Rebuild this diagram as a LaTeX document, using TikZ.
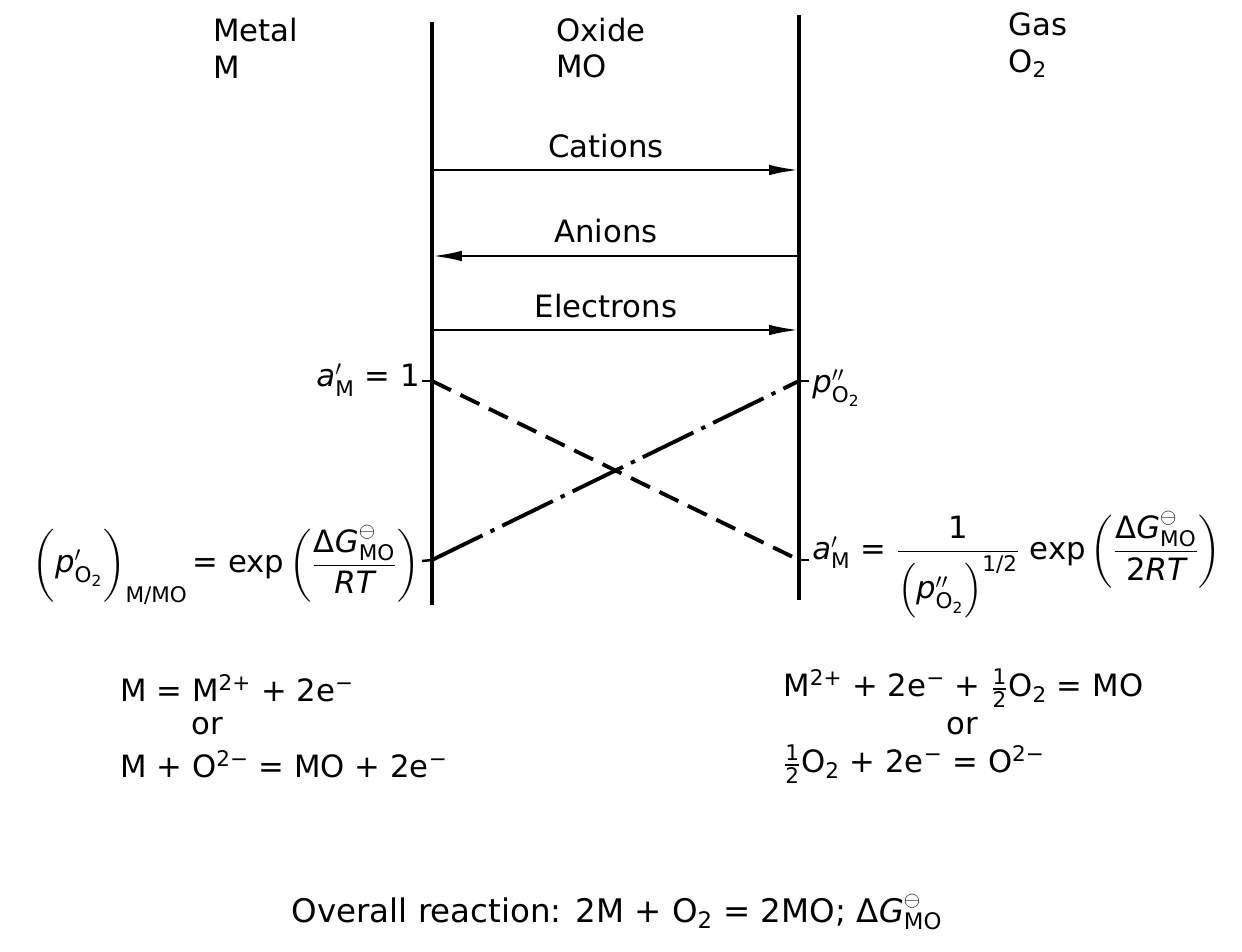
\documentclass[tikz,border=0pt]{standalone}
\usepackage{amsmath}
\usepackage{fontspec}
\setmainfont{DejaVu Sans}
\usetikzlibrary{arrows.meta}
\newcommand\tx[1]{\text{#1}}
\newcommand\vi[1]{\text{\itshape #1}}
\newcommand\Otwo{\tx{O}_{\tx{2}}}
\newcommand\stdst{^{\ominus}}
\tikzset{
  lbl/.style={inner sep=0pt, font=\fontsize{17.5}{21}\selectfont},
  big/.style={inner sep=0pt, font=\fontsize{18.5}{22}\selectfont},
  wall/.style={line width=2.3pt},
  tick/.style={line width=1.4pt},
  flux/.style={line width=1.6pt, -{Latex[length=17pt,width=6pt]}},
  actM/.style={line width=2.2pt, dash pattern=on 12pt off 6pt},
  pO/.style={line width=2.2pt, dash pattern=on 32pt off 5pt on 2.5pt off 5pt},
}
\begin{document}
\begin{tikzpicture}[x=0.02cm, y=-0.02cm]
\useasboundingbox[fill=white] (0,0) rectangle (1242,952);
% walls
\coordinate (lt) at (432,22);
\coordinate (lb) at (432,605);
\coordinate (rt) at (799,15);
\coordinate (rb) at (799,600);
\draw[wall] (lt) -- (lb);
\draw[wall] (rt) -- (rb);
% phase labels
\node[lbl, anchor=west, align=left] (metal) at (213,48) {Metal\\M};
\node[lbl, anchor=west, align=left] (oxide) at (556,48) {Oxide\\MO};
\node[lbl, anchor=west, align=left] (gas) at (1008,45) {Gas\\$\Otwo$};
% fluxes
\coordinate (c1) at (432,170); \coordinate (c2) at (799,170);
\coordinate (a1) at (432,256); \coordinate (a2) at (799,256);
\coordinate (e1) at (432,330); \coordinate (e2) at (799,330);
\draw[flux] (c1) -- (c2);
\draw[flux] (a2) -- (a1);
\draw[flux] (e1) -- (e2);
\node[lbl] (cat) at (606,146) {Cations};
\node[lbl] (ani) at (606,231) {Anions};
\node[lbl] (ele) at (606,306) {Electrons};
% activity / pressure profiles
\coordinate (m1) at (432,381); \coordinate (m2) at (799,560);
\coordinate (o1) at (432,560); \coordinate (o2) at (799,381);
\draw[actM] (m1) -- (m2);
\draw[pO] (o1) -- (o2);
\coordinate (t1) at (422,381); \coordinate (t2) at (422,561);
\coordinate (t3) at (809,381); \coordinate (t4) at (809,560);
\draw[tick] (t1) -- (m1);
\draw[tick] (t2) -- (o1);
\draw[tick] (o2) -- (t3);
\draw[tick] (m2) -- (t4);
\node[lbl, anchor=east] (aml) at (420,380) {$\vi{a}'_{\tx{M}}\tx{ = 1}$};
\node[lbl, anchor=west] (por) at (812,388) {$\vi{p}''_{\Otwo}$};
\node[lbl, anchor=east] (pol) at (420,565) {$\left(\vi{p}'_{\Otwo}\vphantom{\dfrac{\tx{Δ}\vi{G}\stdst}{\vi{RT}}}\right)_{\tx{M/MO}}\tx{= exp}\left(\dfrac{\tx{Δ}\vi{G}\stdst_{\tx{MO}}}{\vi{RT}}\right)$};
\node[lbl, anchor=west] (amr) at (812,565) {$\vi{a}'_{\tx{M}}\tx{ = }\dfrac{\tx{1}}{\left(\vi{p}''_{\Otwo}\right)^{\tx{1/2}}}\tx{ exp}\left(\dfrac{\tx{Δ}\vi{G}\stdst_{\tx{MO}}}{\tx{2}\vi{RT}}\right)$};
% interface reactions
\node[lbl, anchor=west] (l1) at (120,688) {M = M$^{\tx{2+}}$ + 2e$^{\tx{−}}$};
\node[lbl] (lor) at (207,726) {or};
\node[lbl, anchor=west] (l2) at (120,764) {M + O$^{\tx{2−}}$ = MO + 2e$^{\tx{−}}$};
\node[lbl, anchor=west] (r1) at (783,688) {M$^{\tx{2+}}$ + 2e$^{\tx{−}}$ + $\tfrac{\tx{1}}{\tx{2}}$O$_{\tx{2}}$ = MO};
\node[lbl] (ror) at (962,726) {or};
\node[lbl, anchor=west] (r2) at (783,764) {$\tfrac{\tx{1}}{\tx{2}}$O$_{\tx{2}}$ + 2e$^{\tx{−}}$ = O$^{\tx{2−}}$};
% overall
\node[big] (ovr) at (617,912) {Overall reaction: 2M + O$_{\tx{2}}$ = 2MO; $\tx{Δ}\vi{G}\stdst_{\tx{MO}}$};
\end{tikzpicture}
\end{document}
